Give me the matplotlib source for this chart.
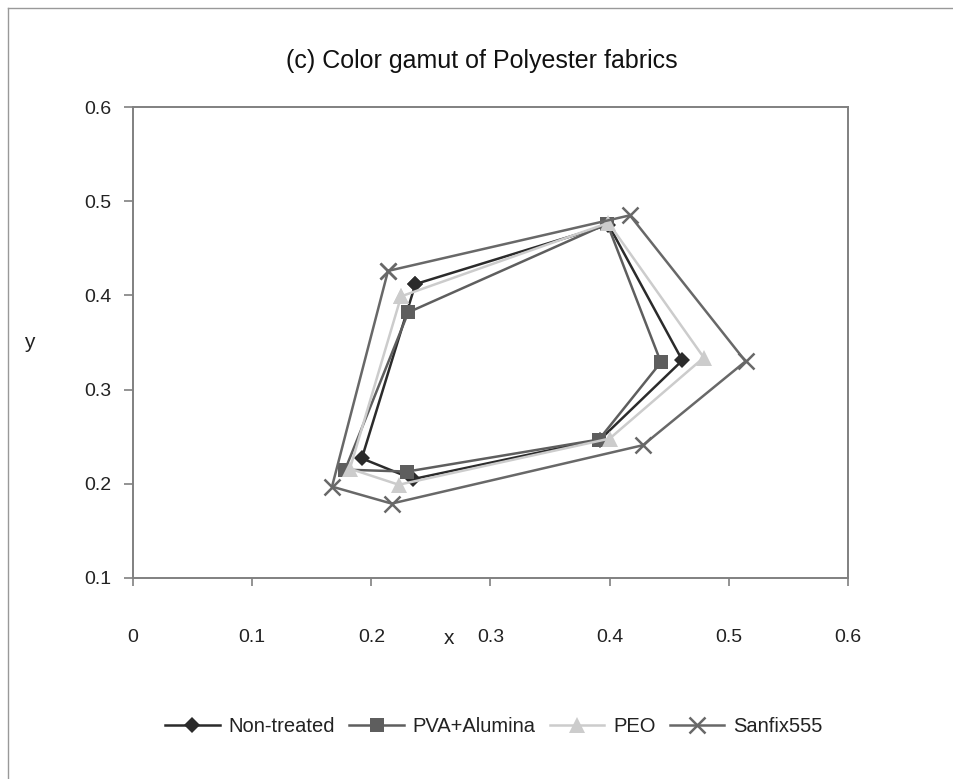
import matplotlib
matplotlib.use("Agg")
import matplotlib.pyplot as plt
import numpy as np
from matplotlib.lines import Line2D

plt.rcParams['font.family'] = ['Liberation Sans', 'DejaVu Sans']

# chromaticity coordinates (x, y) of each treatment, going round the gamut
series = ["Non-treated", "PVA+Alumina", "PEO", "Sanfix555"]

x_non = [0.237, 0.399, 0.461, 0.392, 0.235, 0.192]
y_non = [0.412, 0.475, 0.331, 0.247, 0.205, 0.227]

x_pva = [0.231, 0.398, 0.443, 0.391, 0.230, 0.178]
y_pva = [0.382, 0.476, 0.329, 0.247, 0.213, 0.215]

x_peo = [0.225, 0.399, 0.479, 0.400, 0.223, 0.182]
y_peo = [0.399, 0.477, 0.334, 0.248, 0.199, 0.216]

x_san = [0.214, 0.417, 0.514, 0.428, 0.217, 0.167]
y_san = [0.426, 0.485, 0.330, 0.241, 0.179, 0.197]

xticks = [0, 0.1, 0.2, 0.3, 0.4, 0.5, 0.6]
yticks = [0.1, 0.2, 0.3, 0.4, 0.5, 0.6]

estilos = [
    dict(marker="D", color="#2b2b2b", markersize=8, markeredgewidth=0),
    dict(marker="s", color="#5e5e5e", markersize=10.5, markeredgewidth=0),
    dict(marker="^", color="#cccccc", markersize=11, markeredgewidth=0),
    dict(marker="x", color="#686868", markersize=12, markeredgewidth=1.8),
]
datos = [(x_non, y_non), (x_pva, y_pva), (x_peo, y_peo), (x_san, y_san)]

fig = plt.figure(figsize=(9.54, 7.79), dpi=100)
ax = fig.add_axes([133 / 954, 1 - 578 / 779, 715 / 954, 471 / 779])

for nombre, (xs, ys), est in zip(series, datos, estilos):
    # close the polygon back on its first point
    xs = np.append(xs, xs[0])
    ys = np.append(ys, ys[0])
    ax.plot(xs, ys, label=nombre, linewidth=1.8, **est)

ax.set_xlim(0, 0.6)
ax.set_ylim(0.1, 0.6)
ax.set_xticks(xticks)
ax.set_yticks(yticks)
ax.set_xticklabels([f"{v:g}" for v in xticks])
ax.set_yticklabels([f"{v:g}" for v in yticks])

for s in ax.spines.values():
    s.set_color("#808080")
    s.set_linewidth(1.4)
ax.tick_params(axis="x", direction="out", length=6, width=1.2, color="#808080",
               labelsize=14, labelcolor="#222222", pad=31)
ax.tick_params(axis="y", direction="out", length=6.5, width=1.2, color="#808080",
               labelsize=14, labelcolor="#222222", pad=9)

ax.text(0.442, -0.128, "x", transform=ax.transAxes, ha="center", va="center",
        fontsize=15, color="#222222")
ax.set_ylabel("y", rotation=0, fontsize=15, color="#222222", ha="center", va="center")
ax.yaxis.set_label_coords(-0.1455, 0.501)

fig.text(482 / 954, 1 - 61 / 779, "(c) Color gamut of Polyester fabrics",
         ha="center", va="center", fontsize=18, color="#111111")

fig.legend(loc="center", bbox_to_anchor=(494 / 954, 1 - 727 / 779), ncol=4,
           frameon=False, fontsize=14.5, handlelength=2.7, handletextpad=0.45,
           columnspacing=0.7, labelcolor="#222222")

# chart area border (top and left edges)
fig.add_artist(Line2D([8 / 954, 1], [1 - 8 / 779, 1 - 8 / 779], transform=fig.transFigure,
                      color="#999999", linewidth=1))
fig.add_artist(Line2D([8 / 954, 8 / 954], [0, 1 - 8 / 779], transform=fig.transFigure,
                      color="#999999", linewidth=1))

fig.savefig("out.png", dpi=100)
